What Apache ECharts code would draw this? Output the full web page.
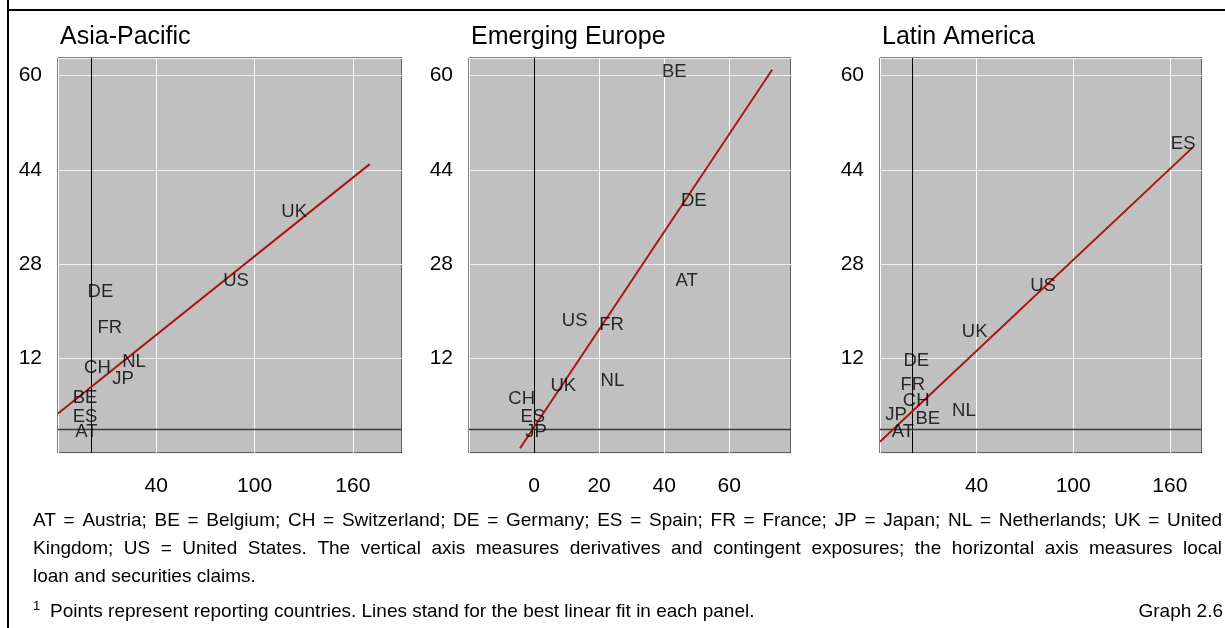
<!DOCTYPE html>
<html>
<head>
<meta charset="utf-8">
<script src="https://cdn.jsdelivr.net/npm/echarts@6.0.0/dist/echarts.min.js"></script>
<style>
html,body{margin:0;padding:0;background:#fff;}
#c{width:1225px;height:628px;}
</style>
</head>
<body>
<div id="c"></div>
<script>
// ---------- data ----------
const panelTitles = ['Asia-Pacific', 'Emerging Europe', 'Latin America'];

const apCountries = ['UK', 'US', 'DE', 'FR', 'NL', 'CH', 'JP', 'BE', 'ES', 'AT'];
const apX = [124.2, 88.7, 5.9, 11.6, 26.4, 4.1, 19.7, -3.5, -3.5, -2.6];
const apY = [36.9, 25.2, 23.3, 17.2, 11.4, 10.4, 8.6, 5.4, 2.1, -0.4];
const apFitX = [-20, 170.3];
const apFitY = [2.7, 45.0];

const eeCountries = ['BE', 'DE', 'AT', 'US', 'FR', 'NL', 'UK', 'CH', 'ES', 'JP'];
const eeX = [43.1, 49.1, 46.9, 12.5, 23.8, 24.1, 9.0, -3.8, -0.4, 0.6];
const eeY = [60.6, 38.8, 25.2, 18.4, 17.7, 8.3, 7.3, 5.2, 2.1, -0.4];
const eeFitX = [-4.3, 73.2];
const eeFitY = [-3.2, 61.0];

const laCountries = ['ES', 'US', 'UK', 'DE', 'FR', 'CH', 'NL', 'JP', 'BE', 'AT'];
const laX = [168.3, 81.3, 38.8, 2.5, 0.4, 2.5, 32.1, -10.0, 9.7, -5.8];
const laY = [48.5, 24.3, 16.6, 11.7, 7.6, 4.8, 3.2, 2.4, 1.8, -0.4];
const laFitX = [-20, 174.1];
const laFitY = [-2.1, 47.8];

const yMin = -4, yMax = 63, yInterval = 16;
const xMins = [-20, -20, -20];
const xMaxs = [190, 79, 180];
const xIntervals = [60, 20, 60];

const noteLines = [
  'AT = Austria; BE = Belgium; CH = Switzerland; DE = Germany; ES = Spain; FR = France; JP = Japan; NL = Netherlands; UK = United',
  'Kingdom; US = United States. The vertical axis measures derivatives and contingent exposures; the horizontal axis measures local',
  'loan and securities claims.'
];
const footnoteMark = '1';
const footnoteText = 'Points represent reporting countries. Lines stand for the best linear fit in each panel.';
const graphLabel = 'Graph 2.6';

// ---------- layout ----------
const FONT = '"Liberation Sans", Arial, Helvetica, sans-serif';
const grids = [
  {left: 58, top: 58, width: 344, height: 395},
  {left: 469, top: 58, width: 322, height: 395},
  {left: 880, top: 58, width: 322, height: 395}
];
const RED = '#ac1414';

const panels = [
  {c: apCountries, x: apX, y: apY, fx: apFitX, fy: apFitY},
  {c: eeCountries, x: eeX, y: eeY, fx: eeFitX, fy: eeFitY},
  {c: laCountries, x: laX, y: laY, fx: laFitX, fy: laFitY}
];

const xAxes = [], yAxes = [], series = [];
panels.forEach((p, i) => {
  xAxes.push({
    gridIndex: i, type: 'value', min: xMins[i], max: xMaxs[i], interval: xIntervals[i],
    axisLine: {show: false}, axisTick: {show: false},
    axisLabel: {showMinLabel: false, showMaxLabel: false, margin: 23, color: '#000', fontSize: 21, fontFamily: FONT},
    splitLine: {show: true, lineStyle: {color: '#ffffff', width: 1}}
  });
  yAxes.push({
    gridIndex: i, type: 'value', min: yMin, max: yMax, interval: yInterval,
    axisLine: {show: false}, axisTick: {show: false},
    axisLabel: {showMinLabel: false, showMaxLabel: false, margin: 16, color: '#000', fontSize: 21, fontFamily: FONT},
    splitLine: {show: true, lineStyle: {color: '#f0f0f0', width: 1}}
  });
  series.push({
    type: 'line', xAxisIndex: i, yAxisIndex: i,
    data: p.fx.map((v, k) => [v, p.fy[k]]),
    showSymbol: false, symbol: 'none', clip: true,
    lineStyle: {color: RED, width: 2},
    z: 3, silent: true,
    markLine: {
      silent: true, symbol: 'none', label: {show: false},
      lineStyle: {color: '#000', width: 1, type: 'solid'},
      data: [
        {xAxis: 0},
        {yAxis: 0, lineStyle: {color: '#3a3a3a', width: 1.3, type: 'solid'}}
      ],
      z: 2
    }
  });
  series.push({
    type: 'scatter', xAxisIndex: i, yAxisIndex: i,
    data: p.c.map((name, k) => [p.x[k], p.y[k], name]),
    symbol: 'circle', symbolSize: 1,
    itemStyle: {color: 'rgba(0,0,0,0)'},
    label: {
      show: true, position: 'inside', formatter: (d) => d.data[2],
      color: '#000', fontSize: 18.5, fontFamily: FONT
    },
    z: 5, silent: true
  });
});

// ---------- graphic (frame, titles, notes) ----------
const graphic = [];
graphic.push({type: 'line', shape: {x1: 8, y1: 10, x2: 1225, y2: 10}, style: {stroke: '#000', lineWidth: 2}, silent: true});
graphic.push({type: 'line', shape: {x1: 8, y1: 0, x2: 8, y2: 628}, style: {stroke: '#000', lineWidth: 2}, silent: true});

panelTitles.forEach((t, i) => {
  graphic.push({
    type: 'text', x: grids[i].left + 2, y: 37, silent: true,
    style: {text: t, fill: '#000', font: '25px ' + FONT, textAlign: 'left', textVerticalAlign: 'middle', align: 'left', verticalAlign: 'middle'}
  });
});

const noteFontSize = 19;
const noteFont = noteFontSize + 'px ' + FONT;
const cv = document.createElement('canvas').getContext('2d');
cv.font = noteFont;
const noteLeft = 33, noteRight = 1222;
const noteYs = [521, 549, 577];
noteLines.forEach((line, li) => {
  const words = line.split(' ');
  const justify = li < noteLines.length - 1;
  const widths = words.map(w => cv.measureText(w).width);
  const total = widths.reduce((a, b) => a + b, 0);
  const gap = justify ? (noteRight - noteLeft - total) / (words.length - 1) : cv.measureText(' ').width;
  let x = noteLeft;
  words.forEach((w, k) => {
    graphic.push({
      type: 'text', x: x, y: noteYs[li], silent: true,
      style: {text: w, fill: '#000', font: noteFont, textAlign: 'left', textVerticalAlign: 'middle', align: 'left', verticalAlign: 'middle'}
    });
    x += widths[k] + gap;
  });
});
graphic.push({
  type: 'text', x: 33, y: 606, silent: true,
  style: {text: footnoteMark, fill: '#000', font: '13px ' + FONT, textAlign: 'left', textVerticalAlign: 'middle', align: 'left', verticalAlign: 'middle'}
});
graphic.push({
  type: 'text', x: 50, y: 612, silent: true,
  style: {text: footnoteText, fill: '#000', font: noteFont, textAlign: 'left', textVerticalAlign: 'middle', align: 'left', verticalAlign: 'middle'}
});
graphic.push({
  type: 'text', x: 1223, y: 612, silent: true,
  style: {text: graphLabel, fill: '#000', font: noteFont, textAlign: 'right', textVerticalAlign: 'middle', align: 'right', verticalAlign: 'middle'}
});

const chart = echarts.init(document.getElementById('c'), null, {renderer: 'canvas'});
chart.setOption({
  animation: false,
  backgroundColor: '#ffffff',
  grid: grids.map(g => Object.assign({show: true, backgroundColor: '#c0c0c0', borderColor: '#000', borderWidth: 1, containLabel: false}, g)),
  xAxis: xAxes,
  yAxis: yAxes,
  series: series,
  graphic: graphic
});
</script>
</body>
</html>
